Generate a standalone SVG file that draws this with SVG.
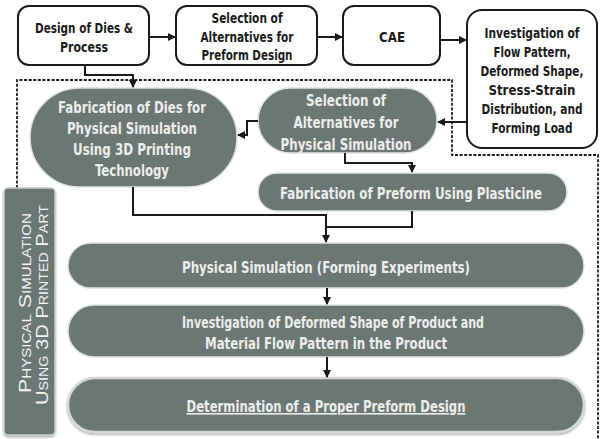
<svg xmlns="http://www.w3.org/2000/svg" width="608" height="439" viewBox="0 0 608 439">
<defs>
<style>
.wbox{fill:#ffffff;stroke:#1a1a1a;stroke-width:2}
.gnode{fill:#6c7673;stroke:#dfe2e1;stroke-width:1.5}
.btxt{font-family:"Liberation Sans Narrow","DejaVu Sans Condensed","Liberation Sans",sans-serif;font-weight:bold;font-size:14px;fill:#1a1a1a;text-anchor:middle}
.gtxt{font-family:"Liberation Sans Narrow","DejaVu Sans Condensed","Liberation Sans",sans-serif;font-weight:bold;font-size:16px;fill:#eceeed;text-anchor:middle}
.conn{fill:none;stroke:#1a1a1a;stroke-width:2}
.dash{fill:none;stroke:#1e1e1e;stroke-width:1.8;stroke-dasharray:3 1.6}
.side{font-family:"Liberation Sans","DejaVu Sans",sans-serif;font-size:17px;font-variant:small-caps;fill:#f2f3f3;text-anchor:middle}
</style>
<marker id="ah" viewBox="0 0 8 8" refX="7" refY="4" markerWidth="8" markerHeight="8" markerUnits="userSpaceOnUse" orient="auto">
<path d="M0,0 L8,4 L0,8 Z" fill="#1a1a1a"/>
</marker>
<filter id="sh" x="-5%" y="-10%" width="110%" height="130%">
<feDropShadow dx="0" dy="1.5" stdDeviation="1.2" flood-color="#000" flood-opacity="0.35"/>
</filter>
</defs>
<rect width="608" height="439" fill="#ffffff"/>

<g id="dashed-region">
<path class="dash" d="M17 188 V80 H452 V155 H598 V439"/>
</g>

<g id="n1">
<rect class="wbox" x="18" y="6" width="131" height="59" rx="11"/>
<text class="btxt" x="84" y="33" textLength="98" lengthAdjust="spacingAndGlyphs">Design of Dies &amp;</text>
<text class="btxt" x="84" y="52" textLength="48" lengthAdjust="spacingAndGlyphs">Process</text>
</g>
<g id="n2">
<rect class="wbox" x="176" y="6" width="141" height="59" rx="11"/>
<text class="btxt" x="247" y="23" textLength="71" lengthAdjust="spacingAndGlyphs">Selection of</text>
<text class="btxt" x="247" y="42" textLength="93" lengthAdjust="spacingAndGlyphs">Alternatives for</text>
<text class="btxt" x="247" y="60" textLength="91" lengthAdjust="spacingAndGlyphs">Preform Design</text>
</g>
<g id="n3">
<rect class="wbox" x="343" y="6" width="97" height="59" rx="11"/>
<text class="btxt" x="392" y="42" textLength="26" lengthAdjust="spacingAndGlyphs">CAE</text>
</g>
<g id="n4">
<rect class="wbox" x="467" y="10" width="130" height="138" rx="15"/>
<text class="btxt" x="532" y="38" textLength="95" lengthAdjust="spacingAndGlyphs">Investigation of</text>
<text class="btxt" x="532" y="57" textLength="77" lengthAdjust="spacingAndGlyphs">Flow Pattern,</text>
<text class="btxt" x="532" y="76" textLength="103" lengthAdjust="spacingAndGlyphs">Deformed Shape,</text>
<text class="btxt" x="532" y="95" textLength="87" lengthAdjust="spacingAndGlyphs">Stress-Strain</text>
<text class="btxt" x="532" y="114" textLength="101" lengthAdjust="spacingAndGlyphs">Distribution, and</text>
<text class="btxt" x="532" y="133" textLength="81" lengthAdjust="spacingAndGlyphs">Forming Load</text>
</g>

<g id="n5">
<rect class="gnode" x="30" y="88" width="207" height="99" rx="49.5"/>
<text class="gtxt" x="132" y="112.5" textLength="148" lengthAdjust="spacingAndGlyphs">Fabrication of Dies for</text>
<text class="gtxt" x="132" y="133.5" textLength="130" lengthAdjust="spacingAndGlyphs">Physical Simulation</text>
<text class="gtxt" x="132" y="154.5" textLength="118" lengthAdjust="spacingAndGlyphs">Using 3D Printing</text>
<text class="gtxt" x="132" y="175.5" textLength="74" lengthAdjust="spacingAndGlyphs">Technology</text>
</g>
<g id="n6">
<rect class="gnode" x="258" y="88" width="179" height="65" rx="32.5"/>
<text class="gtxt" x="346" y="105.5" textLength="80" lengthAdjust="spacingAndGlyphs">Selection of</text>
<text class="gtxt" x="346" y="127.5" textLength="105" lengthAdjust="spacingAndGlyphs">Alternatives for</text>
<text class="gtxt" x="346" y="149.5" textLength="131" lengthAdjust="spacingAndGlyphs">Physical Simulation</text>
</g>
<g id="n7">
<rect class="gnode" x="258" y="173" width="309" height="38" rx="19"/>
<text class="gtxt" x="411" y="198.5" textLength="262" lengthAdjust="spacingAndGlyphs">Fabrication of Preform Using Plasticine</text>
</g>
<g id="n8">
<rect class="gnode" x="68" y="243" width="516" height="45" rx="22.5"/>
<text class="gtxt" x="326" y="272.5" textLength="288" lengthAdjust="spacingAndGlyphs">Physical Simulation (Forming Experiments)</text>
</g>
<g id="n9">
<rect class="gnode" x="68" y="305" width="516" height="52" rx="26"/>
<text class="gtxt" x="333" y="327.5" textLength="302" lengthAdjust="spacingAndGlyphs">Investigation of Deformed Shape of Product and</text>
<text class="gtxt" x="326" y="348.5" textLength="242" lengthAdjust="spacingAndGlyphs">Material Flow Pattern in the Product</text>
</g>
<g id="n10">
<rect x="68" y="378" width="516" height="54" rx="27" fill="#6c7673" stroke="#d4d8d6" stroke-width="2.5" filter="url(#sh)"/>
<text class="gtxt" x="326" y="412" textLength="279" lengthAdjust="spacingAndGlyphs" style="text-decoration:underline">Determination of a Proper Preform Design</text>
</g>

<g id="side-label">
<rect x="4" y="188" width="51" height="247" rx="4" fill="#6c7673" stroke="#c9cecc" stroke-width="1.5" filter="url(#sh)"/>
<text class="side" transform="translate(31,303) rotate(-90)" textLength="180" lengthAdjust="spacingAndGlyphs">Physical Simulation</text>
<text class="side" transform="translate(48,305) rotate(-90)" textLength="200" lengthAdjust="spacingAndGlyphs">Using 3D Printed Part</text>
</g>

<g id="connectors">
<path class="conn" d="M149 37 H175" marker-end="url(#ah)"/>
<path class="conn" d="M317 37 H342" marker-end="url(#ah)"/>
<path class="conn" d="M440 40 H466" marker-end="url(#ah)"/>
<path class="conn" d="M85 65 V75 H133 V87" marker-end="url(#ah)"/>
<path class="conn" d="M467 122 H438" marker-end="url(#ah)"/>
<path class="conn" d="M258 121 H247 V135 H238" marker-end="url(#ah)"/>
<path class="conn" d="M345 153 V163 H412 V172" marker-end="url(#ah)"/>
<path class="conn" d="M133 187 V215 H326 V242" marker-end="url(#ah)"/>
<path class="conn" d="M412 211 V227 H326"/>
<path class="conn" d="M327 288 V304" marker-end="url(#ah)"/>
<path class="conn" d="M327 357 V377" marker-end="url(#ah)"/>
</g>
</svg>
